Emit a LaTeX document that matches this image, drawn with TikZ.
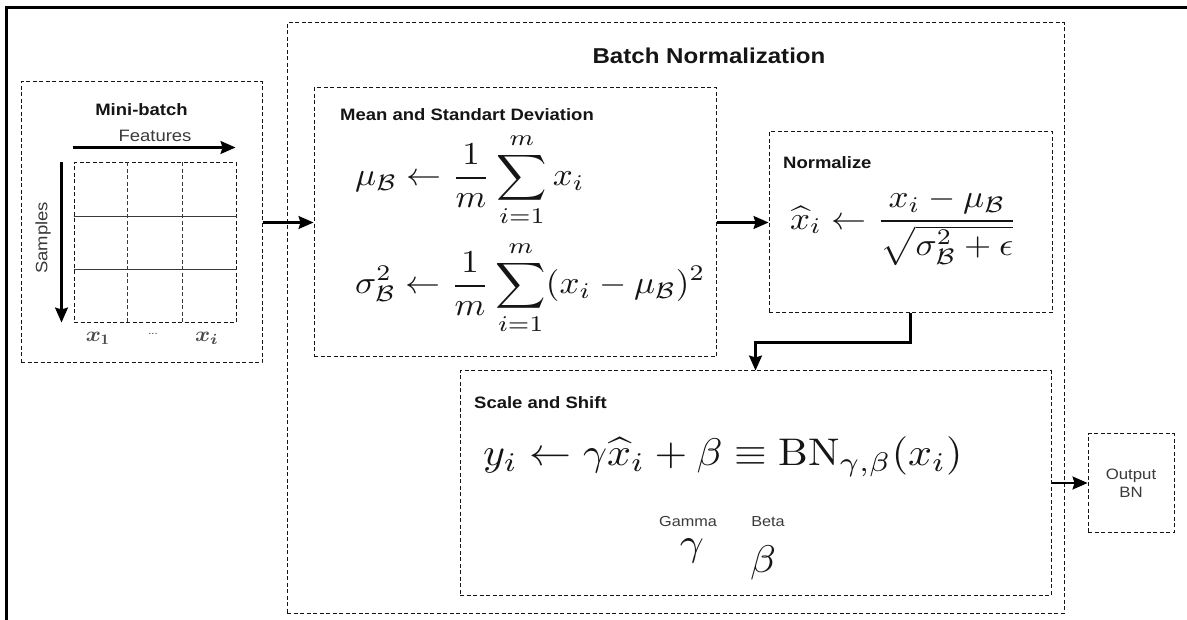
\documentclass[tikz,border=0pt]{standalone}
\usepackage{graphicx}
\usepackage{amsmath}
\usepackage{fontspec}
\setsansfont{Liberation Sans}[FakeStretch=1.12]
\usetikzlibrary{arrows.meta,positioning,calc}
\definecolor{ink}{HTML}{151515}
\definecolor{subink}{HTML}{3A3A3A}
\definecolor{xgray}{HTML}{4A4A4A}
% scaled display maths (the cm maths fonts stop at 24.88pt)
\newcommand{\mathscaled}[3]{\scalebox{#1}[#2]{$\displaystyle #3$}}

\begin{document}
\begin{tikzpicture}[
  x=1pt,y=-1pt,font=\sffamily,
  frame/.style={line width=3pt,draw=black},
  panel/.style={draw=ink,line width=1pt,dash pattern=on 4pt off 2.5pt,inner sep=0pt},
  group/.style={font=\sffamily\bfseries\fontsize{21.5}{25}\selectfont,text=ink},
  boxtitle/.style={font=\sffamily\bfseries\fontsize{16.5}{19}\selectfont,text=ink,inner sep=0pt},
  axislabel/.style={font=\sffamily\fontsize{16.5}{19}\selectfont,text=subink,inner sep=0pt},
  smalllabel/.style={font=\sffamily\fontsize{14.5}{17}\selectfont,text=subink,inner sep=0pt},
  xlab/.style={text=xgray,inner sep=0pt},
  formula/.style={text=ink,inner sep=0pt},
  cellline/.style={draw=subink,line width=.7pt},
  arrow/.style={-{Stealth[length=15pt,width=13pt,inset=2pt]},line width=2.2pt,draw=black}
]
\useasboundingbox (0,0) rectangle (1187,620);
\fill[white] (0,0) rectangle (1187,620);
\draw[frame] (6,620) |- (1187,8);

% Mini-batch input
\node[panel,minimum width=241pt,minimum height=281pt] (mini) at (141.5,222.5) {};
\node[boxtitle] (minititle) at (141.5,110) {Mini-batch};
\node[panel,minimum width=162pt,minimum height=160pt] (grid) at (155,243) {};
\foreach \i in {1,2}{
  \draw[cellline,dash pattern=on 4pt off 2.5pt] ($(grid.north west)!\i/3!(grid.north east)$) -- ($(grid.south west)!\i/3!(grid.south east)$);
  \draw[cellline] ($(grid.north west)!\i/3!(grid.south west)$) -- ($(grid.north east)!\i/3!(grid.south east)$);
}
\draw[arrow] ($(grid.north west)+(-1,-15)$) -- ($(grid.north east)+(-1,-15)$);
\node[axislabel] (features) at (155,136) {Features};
\draw[arrow] ($(grid.north west)+(-12,0)$) -- ($(grid.south west)+(-12,-1)$);
\node[axislabel,rotate=90] (samples) at (43,238) {Samples};
\node[xlab] (xone) at (98,338) {\mathscaled{2.3}{2.1}{\boldsymbol{x}_{\mathbf{1}}}};
\node[smalllabel,font=\sffamily\fontsize{10}{12}\selectfont] (xdots) at (153,334) {...};
\node[xlab] (xlast) at (207,338) {\mathscaled{2.3}{2.1}{\boldsymbol{x}_{\boldsymbol{i}}}};

% Batch normalization block
\node[panel,minimum width=777pt,minimum height=590pt] (bn) at (675.5,318) {};
\node[group] (bntitle) at (709,56) {Batch Normalization};

% mean and variance
\node[panel,minimum width=402pt,minimum height=269pt] (mean) at (515,222.5) {};
\node[boxtitle,anchor=west] (meantitle) at (340,115) {Mean and Standart Deviation};
\node[formula,anchor=west] (mu) at (355,180) {\mathscaled{3.5}{3.2}{\mu_{\mathcal{B}} \leftarrow \frac{1}{m}\sum_{i=1}^{m} x_i}};
\node[formula,anchor=west] (sigma) at (355,288) {\mathscaled{3.5}{3.2}{\sigma_{\mathcal{B}}^2 \leftarrow \frac{1}{m}\sum_{i=1}^{m} (x_i-\mu_{\mathcal{B}})^2}};

% normalize
\node[panel,minimum width=283pt,minimum height=181pt] (norm) at (910.5,222.5) {};
\node[boxtitle,anchor=west] (normtitle) at (783,163) {Normalize};
\node[formula,anchor=west] (xhat) at (790,227) {\mathscaled{3.5}{3.2}{\widehat{x}_i \leftarrow \frac{x_i-\mu_{\mathcal{B}}}{\sqrt{\sigma_{\mathcal{B}}^2+\epsilon}}}};

% scale and shift
\node[panel,minimum width=591pt,minimum height=224pt] (scale) at (755.5,483) {};
\node[boxtitle,anchor=west] (scaletitle) at (474,403) {Scale and Shift};
\node[formula,anchor=west] (yout) at (483,457) {\mathscaled{4.2}{3.85}{y_i \leftarrow \gamma\widehat{x}_i+\beta \equiv \mathrm{BN}_{\gamma,\beta}(x_i)}};
\node[smalllabel] (gammalab) at (688,522) {Gamma};
\node[smalllabel] (betalab) at (768,522) {Beta};
\node[formula,anchor=base] (gammasym) at (692,555) {\mathscaled{4.2}{3.85}{\gamma}};
\node[formula,anchor=base] (betasym) at (763,572) {\mathscaled{4.2}{3.85}{\beta}};

% output
\node[panel,minimum width=86pt,minimum height=98pt,align=center,font=\sffamily\fontsize{15}{18}\selectfont,text=subink] (out) at (1131,483) {Output\\BN};

\draw[arrow] (mini.east) -- (mean.west);
\draw[arrow] (mean.east) -- (norm.west);
\draw[arrow] (norm.south) -- ++(0,29) -| (scale.north);
\draw[arrow] (scale.east) -- (out.west);
\end{tikzpicture}
\end{document}
